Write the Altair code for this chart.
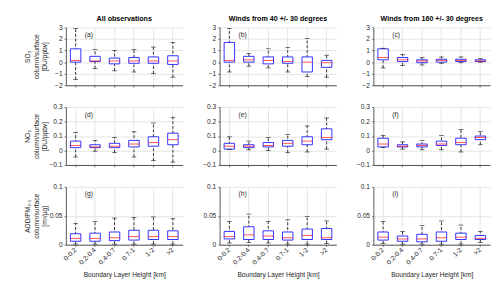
import altair as alt
import pandas as pd

categories = ["0-0.2", "0.2-0.4", "0.4-0.7", "0.7-1", "1-2", ">2"]
col_titles = ["All observations", "Winds from 40 +/- 30 degrees", "Winds from 160 +/- 30 degrees"]
row_titles = [
    ["SO\u2082", "column/surface", "[DU/ppbv]"],
    ["NO\u2082", "column/surface", "[DU/ppbv]"],
    ["AOD/PM\u2082.\u2085", "column/surface", "[m\u00b3/\u03bcg]"],
]
letters = ["(a)", "(b)", "(c)", "(d)", "(e)", "(f)", "(g)", "(h)", "(i)"]
y_domains = [[-2, 3], [-0.1, 0.3], [0, 0.1]]
y_ticks = [[-2, -1, 0, 1, 2, 3], [-0.1, 0, 0.1, 0.2, 0.3], [0, 0.05, 0.1]]

# per category: [lower whisker, q1, median, q3, upper whisker]
so2_all = [[-1.5, 0.0, 0.15, 1.15, 2.9], [-0.55, 0.05, 0.1, 0.5, 1.1], [-0.75, -0.15, 0.1, 0.35, 1.0],
           [-0.85, -0.1, 0.1, 0.4, 1.1], [-1.0, -0.1, 0.1, 0.45, 1.3], [-1.3, -0.2, 0.1, 0.55, 1.7]]
so2_w40 = [[-0.85, 0.0, 0.15, 1.7, 2.9], [-0.35, 0.0, 0.2, 0.5, 0.75], [-0.5, -0.15, 0.15, 0.45, 1.15],
           [-0.85, -0.1, 0.05, 0.45, 1.25], [-1.25, -0.85, 0.0, 0.45, 2.05], [-1.3, -0.45, -0.05, 0.15, 0.6]]
so2_w160 = [[-0.5, 0.2, 0.4, 1.15, 1.2], [-0.3, 0.05, 0.2, 0.4, 0.65], [-0.25, -0.05, 0.1, 0.2, 0.4],
            [-0.1, 0.0, 0.15, 0.25, 0.45], [-0.05, 0.05, 0.15, 0.25, 0.45], [0.0, 0.05, 0.1, 0.2, 0.3]]
no2_all = [[-0.045, 0.02, 0.035, 0.065, 0.125], [-0.005, 0.02, 0.025, 0.04, 0.07], [-0.015, 0.02, 0.03, 0.05, 0.09],
           [-0.045, 0.025, 0.045, 0.07, 0.13], [-0.07, 0.03, 0.055, 0.095, 0.19], [-0.08, 0.04, 0.075, 0.12, 0.23]]
no2_w40 = [[0.008, 0.01, 0.03, 0.05, 0.095], [0.005, 0.02, 0.03, 0.04, 0.065], [0.0, 0.025, 0.035, 0.055, 0.09],
           [-0.015, 0.03, 0.05, 0.07, 0.11], [-0.01, 0.04, 0.065, 0.095, 0.17], [0.01, 0.075, 0.09, 0.15, 0.225]]
no2_w160 = [[0.02, 0.025, 0.045, 0.085, 0.105], [0.01, 0.025, 0.03, 0.04, 0.06], [0.005, 0.025, 0.035, 0.045, 0.07],
            [0.005, 0.035, 0.045, 0.065, 0.105], [-0.01, 0.04, 0.055, 0.085, 0.145], [0.04, 0.075, 0.09, 0.1, 0.13]]
aod_all = [[0.001, 0.006, 0.011, 0.019, 0.037], [0.001, 0.006, 0.011, 0.02, 0.04], [0.001, 0.007, 0.012, 0.022, 0.046],
           [0.001, 0.008, 0.014, 0.025, 0.047], [0.001, 0.009, 0.014, 0.025, 0.048], [0.001, 0.009, 0.014, 0.024, 0.045]]
aod_w40 = [[0.003, 0.01, 0.014, 0.023, 0.04], [0.004, 0.009, 0.017, 0.031, 0.053], [0.003, 0.009, 0.015, 0.024, 0.04],
           [0.001, 0.008, 0.012, 0.022, 0.043], [0.001, 0.009, 0.016, 0.027, 0.049], [0.002, 0.009, 0.012, 0.028, 0.041]]
aod_w160 = [[0.002, 0.008, 0.013, 0.022, 0.04], [0.001, 0.006, 0.01, 0.015, 0.023], [0.001, 0.005, 0.01, 0.018, 0.033],
            [0.001, 0.006, 0.012, 0.022, 0.041], [0.001, 0.009, 0.013, 0.02, 0.034], [0.004, 0.009, 0.011, 0.016, 0.023]]

panels_data = [[so2_all, so2_w40, so2_w160], [no2_all, no2_w40, no2_w160], [aod_all, aod_w40, aod_w160]]

FONT = "Liberation Sans"
TXT = "#262626"
BLUE = "#2a2aff"


def panel(stats, r, c):
    df = pd.DataFrame(stats, columns=["lo", "q1", "med", "q3", "hi"])
    df["cat"] = categories
    if r == 2:
        xaxis = alt.Axis(title="Boundary Layer Height [km]", labelAngle=315, labelAlign="right",
                         labelBaseline="middle", labelPadding=2, bandPosition=0.5, tickSize=2,
                         grid=True, titlePadding=6)
    else:
        xaxis = alt.Axis(title=None, labels=False, bandPosition=0.5, tickSize=2, grid=True)
    x = alt.X("cat:N", sort=categories, scale=alt.Scale(paddingInner=0, paddingOuter=0), axis=xaxis)
    ysc = alt.Scale(domain=y_domains[r], nice=False, zero=False)
    if c == 0:
        yaxis = alt.Axis(values=y_ticks[r], format="~g", title=row_titles[r], tickSize=2,
                         grid=True, titlePadding=5, minExtent=14, maxExtent=14)
    else:
        yaxis = alt.Axis(values=y_ticks[r], format="~g", title=None, tickSize=2, grid=True)
    base = alt.Chart(df).encode(x=x)
    whisk = base.mark_rule(color="black", strokeDash=[3, 2], strokeWidth=0.8).encode(
        y=alt.Y("lo:Q", scale=ysc, axis=yaxis), y2="hi:Q")
    box = base.mark_bar(size=11, fill="white", stroke=BLUE, strokeWidth=1).encode(
        y=alt.Y("q1:Q", scale=ysc, axis=yaxis), y2="q3:Q")
    med = base.mark_tick(color="red", size=11, thickness=1).encode(y=alt.Y("med:Q", scale=ysc, axis=yaxis))
    caplo = base.mark_tick(color="black", size=5, thickness=0.8).encode(y=alt.Y("lo:Q", scale=ysc, axis=yaxis))
    caphi = base.mark_tick(color="black", size=5, thickness=0.8).encode(y=alt.Y("hi:Q", scale=ysc, axis=yaxis))
    lab = alt.Chart(pd.DataFrame({"t": [letters[r * 3 + c]]})).mark_text(
        align="left", baseline="middle", fontSize=7, font=FONT, color=TXT).encode(
        text="t:N", x=alt.value(20), y=alt.value(8))
    ch = alt.layer(whisk, box, med, caplo, caphi, lab).properties(width=123, height=61)
    if r == 0:
        ch = ch.properties(title=alt.TitleParams(col_titles[c], fontSize=7.5, fontWeight="bold", font=FONT,
                                                 color="black", offset=1, frame="group", anchor="middle"))
    return ch


cells = [panel(panels_data[r][c], r, c) for r in range(3) for c in range(3)]

chart = alt.concat(*cells, columns=3, spacing={"row": 23, "column": 39}, bounds="flush").properties(
    padding={"left": 17, "top": 0, "right": 2, "bottom": 0}
).configure_axis(
    labelFont=FONT, titleFont=FONT, labelFontSize=7, titleFontSize=7, labelColor=TXT, titleColor=TXT,
    titleFontWeight="normal", domainColor=TXT, tickColor=TXT, gridColor="#e3e3e3", domainWidth=0.8,
    tickWidth=0.6
).configure_view(stroke=None)

chart.save("out.html", embed_options={"renderer": "svg", "actions": False})
